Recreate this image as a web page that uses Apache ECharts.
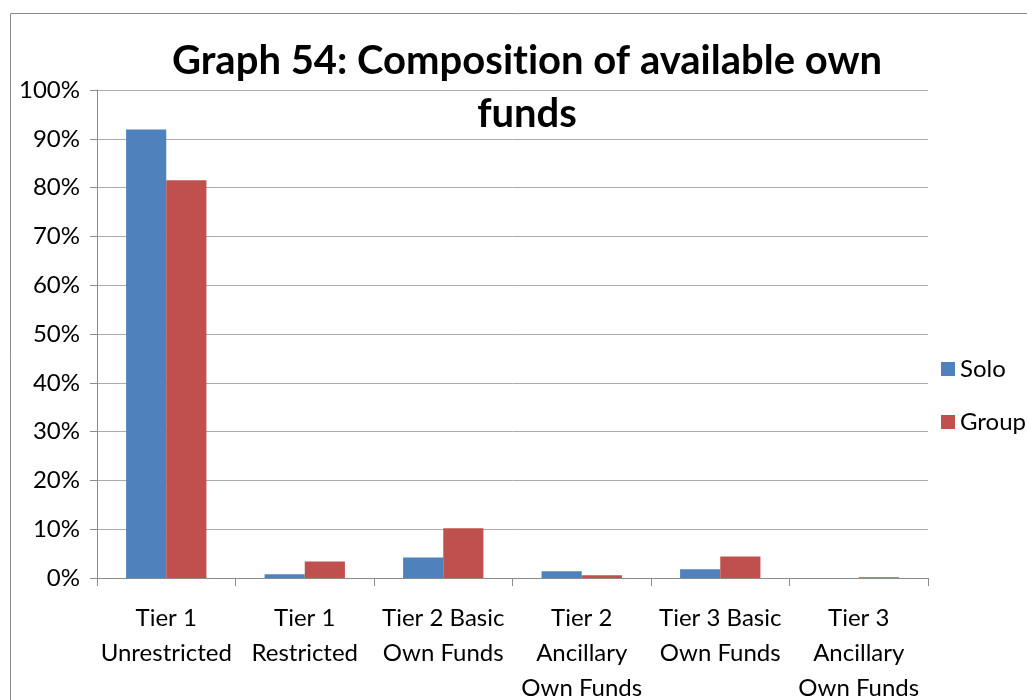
<!DOCTYPE html>
<html>
<head>
<meta charset="utf-8">
<script src="https://cdn.jsdelivr.net/npm/echarts@6/dist/echarts.min.js"></script>
<style>
  html, body { margin: 0; padding: 0; background: #fff; overflow: hidden; }
  #chart { width: 1027px; height: 700px; }
</style>
</head>
<body>
<div id="chart"></div>
<script>
// Categories of own funds (line breaks as shown under the axis)
const categories = [
  'Tier 1\nUnrestricted',
  'Tier 1\nRestricted',
  'Tier 2 Basic\nOwn Funds',
  'Tier 2\nAncillary\nOwn Funds',
  'Tier 3 Basic\nOwn Funds',
  'Tier 3\nAncillary\nOwn Funds'
];
// Share of available own funds, in percent
const soloValues  = [91.9, 0.75, 4.2, 1.4, 1.8, 0.0];
const groupValues = [81.5, 3.4, 10.2, 0.55, 4.4, 0.15];
const seriesNames = ['Solo', 'Group'];

const FONT = 'Lato, "Open Sans", sans-serif';
// zero-width non-joiner keeps "ti" from turning into a ligature
const titleText = 'Graph 54: Composit\u200Cion of available own\nfunds';

const chart = echarts.init(document.getElementById('chart'), null, { renderer: 'canvas', width: 1027, height: 700 });
chart.setOption({
  backgroundColor: '#ffffff',
  animation: false,
  textStyle: { fontFamily: FONT, color: '#000' },
  graphic: [{
    type: 'rect',
    shape: { x: 10.5, y: 13.5, width: 1040, height: 720 },
    style: { fill: 'none', stroke: '#8c8c8c', lineWidth: 1 },
    silent: true
  }],
  title: {
    text: titleText,
    left: 522,
    textAlign: 'center',
    top: 30,
    textStyle: { fontFamily: FONT, fontWeight: 'bold', fontSize: 40, lineHeight: 53, color: '#000' }
  },
  legend: {
    orient: 'vertical',
    left: 941,
    top: 357,
    padding: 0,
    icon: 'rect',
    itemWidth: 14,
    itemHeight: 14,
    itemGap: 29,
    data: seriesNames,
    textStyle: { fontFamily: FONT, fontSize: 24, color: '#000' }
  },
  // labels under the axis run past the bottom edge, so the grid keeps its own box
  grid: { left: 97, top: 90, width: 831, height: 488, containLabel: false, outerBoundsMode: 'none' },
  xAxis: {
    type: 'category',
    data: categories,
    axisLine: { lineStyle: { color: '#8c8c8c', width: 1 } },
    axisTick: { show: true, length: 8, lineStyle: { color: '#8c8c8c' } },
    axisLabel: {
      interval: 0,
      margin: 23,
      fontFamily: FONT,
      fontSize: 24,
      lineHeight: 35,
      color: '#000',
      align: 'center'
    }
  },
  yAxis: {
    type: 'value',
    min: 0,
    max: 100,
    interval: 10,
    axisLine: { show: true, lineStyle: { color: '#8c8c8c', width: 1 } },
    axisTick: { show: true, length: 7, lineStyle: { color: '#8c8c8c' } },
    splitLine: { show: true, lineStyle: { color: '#ababab', width: 1 } },
    axisLabel: {
      margin: 17,
      fontFamily: FONT,
      fontSize: 24,
      color: '#000',
      formatter: '{value}%'
    }
  },
  series: [
    {
      name: seriesNames[0],
      type: 'bar',
      data: soloValues,
      barGap: '0%',
      barCategoryGap: '42%',
      itemStyle: { color: '#4F81BD' }
    },
    {
      name: seriesNames[1],
      type: 'bar',
      data: groupValues,
      barGap: '0%',
      barCategoryGap: '42%',
      itemStyle: { color: '#C0504D' }
    }
  ]
});
</script>
</body>
</html>
